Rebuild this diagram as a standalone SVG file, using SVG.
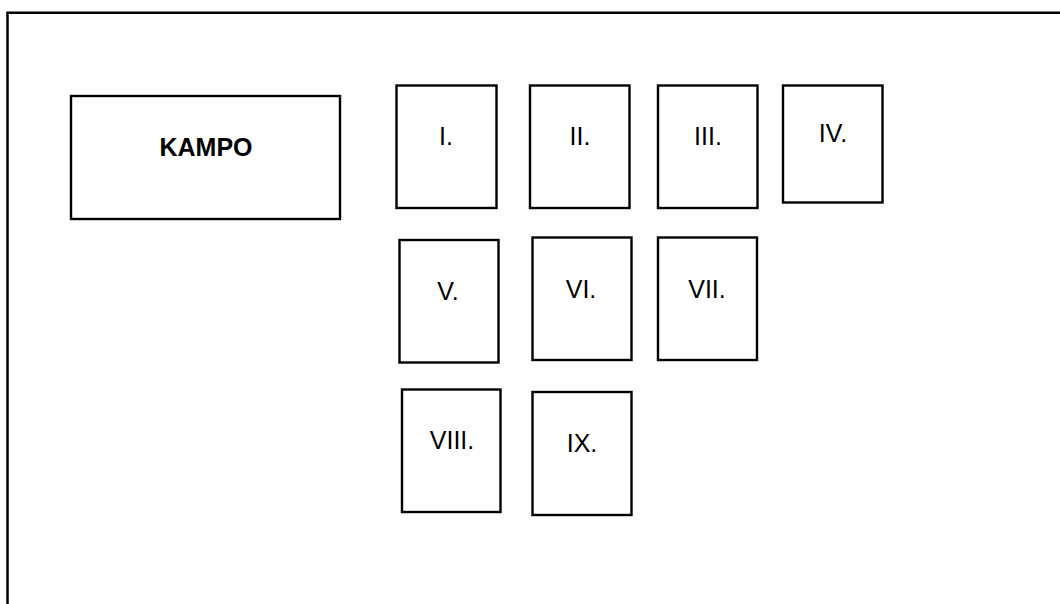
<svg xmlns="http://www.w3.org/2000/svg" width="1060" height="604" viewBox="0 0 1060 604">
<style>
.box{fill:#fff;stroke:#000;stroke-width:2.4}
.lbl{font-family:"Liberation Sans",Arial,sans-serif;font-size:25px;fill:#000;text-anchor:middle}
.title{font-family:"Liberation Sans",Arial,sans-serif;font-size:25px;font-weight:bold;fill:#000;text-anchor:middle}
.frame{fill:none;stroke:#000;stroke-width:2.5}
</style>
<rect width="1060" height="604" fill="#fff"/>
<path class="frame" d="M7.5,604 V12.8 H1060"/>
<g id="kampo"><rect class="box" x="71" y="96" width="269" height="123"/><text class="title" x="206" y="156">KAMPO</text></g>
<g id="n1"><rect class="box" x="396.5" y="85.5" width="100" height="122.5"/><text class="lbl" x="446" y="145">I.</text></g>
<g id="n2"><rect class="box" x="530" y="85.5" width="99.5" height="122.5"/><text class="lbl" x="580" y="145">II.</text></g>
<g id="n3"><rect class="box" x="658" y="85.5" width="99.5" height="122.5"/><text class="lbl" x="708" y="145">III.</text></g>
<g id="n4"><rect class="box" x="783" y="85.5" width="99.5" height="117"/><text class="lbl" x="833" y="141.7">IV.</text></g>
<g id="n5"><rect class="box" x="399.5" y="240" width="99" height="122.5"/><text class="lbl" x="448" y="300">V.</text></g>
<g id="n6"><rect class="box" x="532.5" y="237.5" width="99" height="122.5"/><text class="lbl" x="581" y="297.7">VI.</text></g>
<g id="n7"><rect class="box" x="658" y="237.5" width="99" height="122.5"/><text class="lbl" x="707" y="297.7">VII.</text></g>
<g id="n8"><rect class="box" x="402" y="389.5" width="98.5" height="122.5"/><text class="lbl" x="452" y="449">VIII.</text></g>
<g id="n9"><rect class="box" x="532.5" y="392" width="99" height="123"/><text class="lbl" x="582" y="451.7">IX.</text></g>
<g id="connectors"></g>
</svg>
